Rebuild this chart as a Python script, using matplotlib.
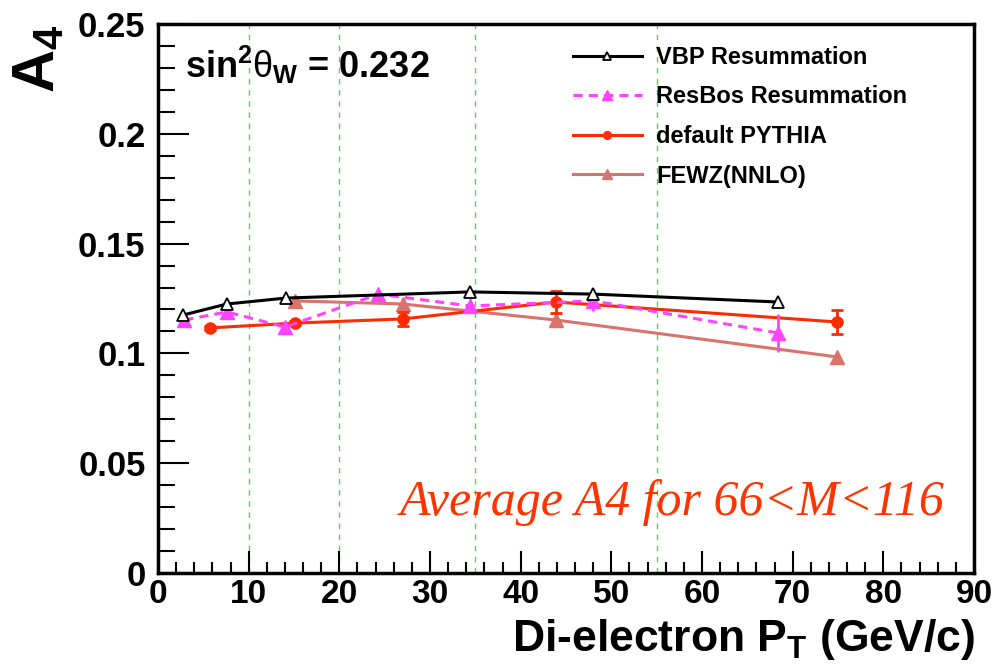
import numpy as np
import matplotlib
matplotlib.use("Agg")
import matplotlib.pyplot as plt
from matplotlib.ticker import MultipleLocator

plt.rcParams["font.family"] = ["Liberation Sans", "DejaVu Sans"]
plt.rcParams["mathtext.fontset"] = "custom"
plt.rcParams["mathtext.rm"] = "Liberation Sans:bold"
plt.rcParams["mathtext.it"] = "Liberation Sans"
plt.rcParams["mathtext.bf"] = "Liberation Sans:bold"

# data
vbp_pt = [2.8, 7.6, 14.1, 34.4, 48.0, 68.4]
vbp_a4 = [0.1175, 0.1225, 0.1252, 0.1280, 0.1270, 0.1234]

resbos_pt = [2.9, 7.6, 14.0, 24.3, 34.4, 48.0, 68.4]
resbos_a4 = [0.1152, 0.1189, 0.1120, 0.1270, 0.1216, 0.1239, 0.1093]
resbos_err = [0.001, 0.001, 0.001, 0.0015, 0.003, 0.0045, 0.0085]

pythia_pt = [5.7, 15.1, 27.0, 43.9, 74.9]
pythia_a4 = [0.1116, 0.1138, 0.1157, 0.1234, 0.1143]
pythia_err = [0.001, 0.001, 0.003, 0.005, 0.0055]

fewz_pt = [15.1, 27.0, 43.9, 74.9]
fewz_a4 = [0.1239, 0.1225, 0.1152, 0.0984]

bin_edges = [10, 20, 35, 55]

fig = plt.figure(figsize=(9.98, 6.70), dpi=100)
ax = fig.add_axes([158 / 998, 97 / 670, 816 / 998, 549 / 670])

for xe in bin_edges:
    ax.axvline(xe, color="#44dd44", lw=1.0, ls=(0, (4, 4)), zorder=1)

fewz_line, = ax.plot(fewz_pt, fewz_a4, color="#d9736b", lw=2.2, marker="^",
                     ms=10, zorder=2)
pyth = ax.errorbar(pythia_pt, pythia_a4, yerr=pythia_err, color="#ff2a00",
                   lw=2.2, marker="o", ms=8, capsize=4, elinewidth=2,
                   capthick=2, zorder=3)
resb = ax.errorbar(resbos_pt, resbos_a4, yerr=resbos_err, color="#ff44ff",
                   lw=2.2, ls=(0, (3, 2)), marker="^", ms=10, capsize=0,
                   elinewidth=2, zorder=4)
vbp_line, = ax.plot(vbp_pt, vbp_a4, color="black", lw=2.2, marker="^", ms=8,
                    mfc="white", mew=1.3, zorder=5)

ax.set_xlim(0, 90)
ax.set_ylim(0, 0.25)
ax.xaxis.set_major_locator(MultipleLocator(10))
ax.xaxis.set_minor_locator(MultipleLocator(2))
ax.yaxis.set_minor_locator(MultipleLocator(0.01))
ax.set_yticks([0, 0.05, 0.1, 0.15, 0.2, 0.25])
ax.set_yticklabels(["0", "0.05", "0.1", "0.15", "0.2", "0.25"])
ax.tick_params(which="both", direction="in", top=False, right=False, width=1.5)
ax.tick_params(axis="x", which="major", length=16, labelsize=24, pad=4)
ax.tick_params(axis="x", which="minor", length=8)
ax.tick_params(axis="y", which="major", length=22, labelsize=25, pad=9)
ax.tick_params(axis="y", which="minor", length=12)
for lab in ax.get_xticklabels() + ax.get_yticklabels():
    lab.set_fontweight("bold")
for sp in ax.spines.values():
    sp.set_linewidth(2.5)

fig.text(975 / 998, 8 / 670, r"Di-electron P$_\mathregular{T}$ (GeV/c)",
         ha="right", va="bottom", fontsize=32, fontweight="bold")
fig.text(12 / 998, 646 / 670, r"A$_\mathregular{4}$", rotation=90,
         ha="left", va="top", fontsize=43, fontweight="bold")

ax.text(0.033, 0.925, r"sin$^\mathregular{2}\theta_\mathregular{W}$ = 0.232",
        transform=ax.transAxes, ha="left", va="center", fontsize=26,
        fontweight="bold")
fig.text(945 / 998, (670 - 515) / 670, "Average A4 for 66<M<116",
         ha="right", va="baseline", fontsize=36, style="italic",
         family="Liberation Serif", color="#ff3300")

leg = ax.legend([vbp_line, resb[0], pyth[0], fewz_line],
                ["VBP Resummation", "ResBos Resummation", "default PYTHIA",
                 "FEWZ(NNLO)"],
                loc="upper left", bbox_to_anchor=(0.508, 0.96),
                frameon=False, prop={"weight": "bold", "size": 17},
                handlelength=2.95, handletextpad=0.6, labelspacing=0.7,
                borderpad=0, borderaxespad=0, markerscale=0.7)

fig.savefig("out.png", dpi=100)
